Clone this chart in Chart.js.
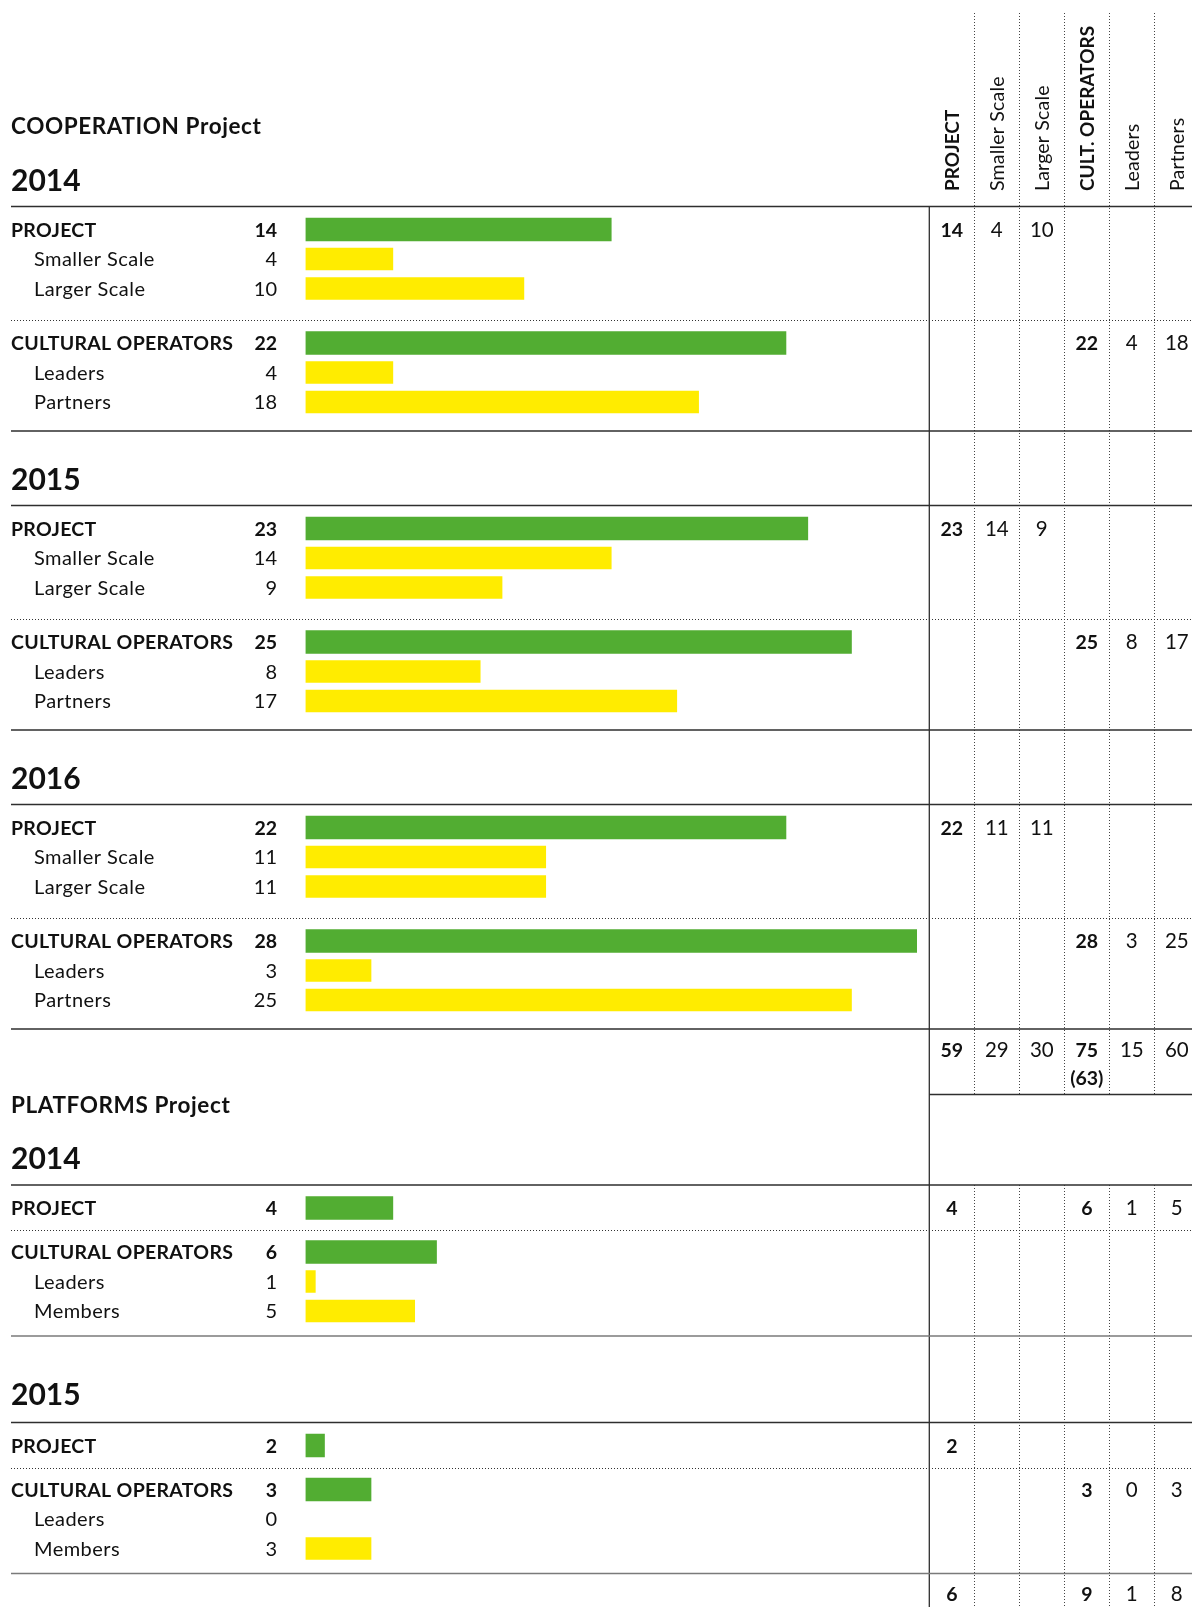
<!DOCTYPE html>
<html>
<head>
<meta charset="utf-8">
<script src="https://cdn.jsdelivr.net/npm/chart.js@4.4.1/dist/chart.umd.min.js"></script>
<style>
  html, body { margin: 0; padding: 0; background: #fff; }
  #board { display: block; }
</style>
</head>
<body>
<canvas id="board" width="1192" height="1607"></canvas>
<script>
// ---- data ----
const coopYears = ['2014', '2015', '2016'];
const coopProject = [14, 23, 22];
const coopSmaller = [4, 14, 11];
const coopLarger = [10, 9, 11];
const coopOperators = [22, 25, 28];
const coopLeaders = [4, 8, 3];
const coopPartners = [18, 17, 25];
const coopTotals = ['59', '29', '30', '75', '15', '60'];
const coopTotalsNote = ['', '', '', '(63)', '', ''];

const platYears = ['2014', '2015'];
const platProject = [4, 2];
const platOperators = [6, 3];
const platLeaders = [1, 0];
const platMembers = [5, 3];
// the source draws the "1" and "2" bars shorter than their values
const platProjectBars = [4, 0.87];
const platLeadersBars = [0.45, 0];
const platTotals = ['6', '', '', '9', '1', '8'];
// 2014: operator figures sit on the PROJECT line of the table
const platTableOnProjectRow = [true, false];

const columnHeads = ['PROJECT', 'Smaller Scale', 'Larger Scale', 'CULT. OPERATORS', 'Leaders', 'Partners'];
const columnBold = [true, false, false, true, false, false];

// ---- layout ----
const W = 1192, H = 1607;
const LEFT = 11, INDENT = 34, NUM_X = 277;
const TABLE_X = 929.3, COL_W = 45;
const ROW = 29.5;
const GREEN = '#52ad32', YELLOW = '#ffec00', INK = '#111', RULE = '#2e2e2e', RULE_LIGHT = '#7a7a7a';
const FONT = 'Lato, "Noto Sans", sans-serif';

let headings = [], labels = [], rules = [], cells = [], greenBars = [], yellowBars = [];
let gapFrom = 0, gapTo = 0;

function addRow(text, value, bar, head, y) {
    labels.push({ text: text, value: value, head: head, y: y });
    if (bar > 0) (head ? greenBars : yellowBars).push({ x: bar, y: y });
}
function addCells(startCol, vals, y) {
    vals.forEach((v, k) => cells.push({ col: startCol + k, text: String(v), y: y }));
}

let y = 126;
headings.push({ text: 'COOPERATION Project', y: y, size: 22.5, spacing: 0.6 });
coopYears.forEach((yr, i) => {
    y += (i === 0 ? 54.5 : 48.5);
    headings.push({ text: yr, y: y, size: 30, spacing: 0 });
    y += 26; rules.push({ y: y, dotted: false });
    y += 23;
    addRow('PROJECT', coopProject[i], coopProject[i], true, y);
    addCells(0, [coopProject[i], coopSmaller[i], coopLarger[i]], y);
    y += ROW; addRow('Smaller Scale', coopSmaller[i], coopSmaller[i], false, y);
    y += ROW; addRow('Larger Scale', coopLarger[i], coopLarger[i], false, y);
    y += 31.5; rules.push({ y: y, dotted: true });
    y += 23;
    addRow('CULTURAL OPERATORS', coopOperators[i], coopOperators[i], true, y);
    addCells(3, [coopOperators[i], coopLeaders[i], coopPartners[i]], y);
    y += ROW; addRow('Leaders', coopLeaders[i], coopLeaders[i], false, y);
    y += ROW; addRow('Partners', coopPartners[i], coopPartners[i], false, y);
    y += 29; rules.push({ y: y, dotted: false });
});
y += 21; addCells(0, coopTotals, y);
y += 28; addCells(0, coopTotalsNote, y);
y += 16.5; rules.push({ y: y, dotted: false, tableOnly: true });
gapFrom = y;
y += 10.5;
headings.push({ text: 'PLATFORMS Project', y: y, size: 22.5, spacing: 0.6 });
platYears.forEach((yr, i) => {
    y += (i === 0 ? 53 : 58);
    headings.push({ text: yr, y: y, size: 30, spacing: 0 });
    y += (i === 0 ? 27 : 28.5); rules.push({ y: y, dotted: false });
    if (i === 0) gapTo = y;
    y += 23;
    addRow('PROJECT', platProject[i], platProjectBars[i], true, y);
    addCells(0, [platProject[i]], y);
    let opY = y;
    y += 22; rules.push({ y: y, dotted: true });
    y += 22;
    if (!platTableOnProjectRow[i]) opY = y;
    addRow('CULTURAL OPERATORS', platOperators[i], platOperators[i], true, y);
    addCells(3, [platOperators[i], platLeaders[i], platMembers[i]], opY);
    y += ROW; addRow('Leaders', platLeaders[i], platLeadersBars[i], false, y);
    y += ROW; addRow('Members', platMembers[i], platMembers[i], false, y);
    y += 25; rules.push({ y: y, dotted: false, light: true });
});
y += 20; addCells(0, platTotals, y);

function colCenter(c) { return TABLE_X + COL_W * (c + 0.5); }
function crisp(v) { return Math.round(v) + 0.5; }
function setFont(ctx, bold, size, spacing) {
    ctx.font = (bold ? 'bold ' : '400 ') + size + 'px ' + FONT;
    ctx.letterSpacing = spacing + 'px';
}

const boardPlugin = {
    id: 'boardPlugin',
    beforeDraw(chart) {
        const ctx = chart.ctx;
        ctx.save();
        ctx.fillStyle = '#fff';
        ctx.fillRect(0, 0, chart.width, chart.height);
        ctx.restore();
    },
    afterDatasetsDraw(chart) {
        const ctx = chart.ctx;
        const py = v => chart.scales.y.getPixelForValue(v);
        ctx.save();

        // vertical rules of the table
        const colEdges = [1, 2, 3, 4, 5].map(c => TABLE_X + COL_W * c);
        ctx.strokeStyle = '#444';
        ctx.lineWidth = 1;
        ctx.setLineDash([1, 2]);
        colEdges.forEach(x => {
            ctx.beginPath();
            ctx.moveTo(crisp(x), 13); ctx.lineTo(crisp(x), py(gapFrom));
            ctx.moveTo(crisp(x), py(gapTo)); ctx.lineTo(crisp(x), H);
            ctx.stroke();
        });
        ctx.setLineDash([]);
        ctx.strokeStyle = RULE;
        ctx.lineWidth = 1.3;
        ctx.beginPath();
        ctx.moveTo(TABLE_X, py(rules[0].y)); ctx.lineTo(TABLE_X, H);
        ctx.stroke();

        // horizontal rules
        rules.forEach(r => {
            const x0 = r.tableOnly ? TABLE_X : LEFT;
            const yy = r.dotted ? crisp(py(r.y)) : py(r.y);
            ctx.beginPath();
            if (r.dotted) {
                ctx.setLineDash([1, 2]); ctx.lineWidth = 1; ctx.strokeStyle = '#333';
            } else {
                ctx.setLineDash([]); ctx.lineWidth = r.light ? 1.6 : 1.3;
                ctx.strokeStyle = r.light ? RULE_LIGHT : RULE;
            }
            ctx.moveTo(x0, yy); ctx.lineTo(W, yy);
            ctx.stroke();
        });
        ctx.setLineDash([]);

        // headings
        ctx.fillStyle = INK;
        ctx.textAlign = 'left';
        ctx.textBaseline = 'alphabetic';
        headings.forEach(h => {
            setFont(ctx, true, h.size, h.spacing);
            ctx.fillText(h.text, LEFT, py(h.y) + h.size * 0.36);
        });

        // row labels + numbers
        labels.forEach(l => {
            const size = l.head ? 19.5 : 20;
            const base = py(l.y) + size * 0.36;
            setFont(ctx, l.head, size, l.head ? 0.3 : 0.45);
            ctx.textAlign = 'left';
            ctx.fillText(l.text, l.head ? LEFT : INDENT, base);
            ctx.textAlign = 'right';
            ctx.letterSpacing = '0px';
            ctx.fillText(String(l.value), NUM_X, base);
        });

        // table cells
        ctx.textAlign = 'center';
        cells.forEach(c => {
            if (!c.text) return;
            const bold = columnBold[c.col];
            const size = bold ? 19.5 : 20.5;
            setFont(ctx, bold, size, 0);
            ctx.fillText(c.text, colCenter(c.col), py(c.y) + size * 0.36);
        });

        // rotated column heads
        columnHeads.forEach((t, c) => {
            const bold = columnBold[c];
            const size = bold ? 19 : 19.5;
            ctx.save();
            ctx.translate(colCenter(c), 191);
            ctx.rotate(-Math.PI / 2);
            ctx.textAlign = 'left';
            ctx.textBaseline = 'alphabetic';
            setFont(ctx, bold, size, bold ? 0 : 0.2);
            ctx.fillText(t, 0, size * 0.36);
            ctx.restore();
        });
        ctx.restore();
    }
};

new Chart(document.getElementById('board'), {
    type: 'bar',
    data: {
        datasets: [
            { label: 'totals', data: greenBars, backgroundColor: GREEN, barThickness: 23, grouped: false },
            { label: 'breakdown', data: yellowBars, backgroundColor: YELLOW, barThickness: 22, grouped: false }
        ]
    },
    options: {
        indexAxis: 'y',
        responsive: false,
        animation: false,
        devicePixelRatio: 1,
        layout: { padding: { left: 305.5, right: W - 917, top: 0, bottom: 0 } },
        scales: {
            x: { type: 'linear', min: 0, max: 28, display: false },
            y: { type: 'linear', min: 0, max: H, reverse: true, display: false, offset: false }
        },
        plugins: { legend: { display: false }, tooltip: { enabled: false }, title: { display: false } }
    },
    plugins: [boardPlugin]
});
</script>
</body>
</html>
